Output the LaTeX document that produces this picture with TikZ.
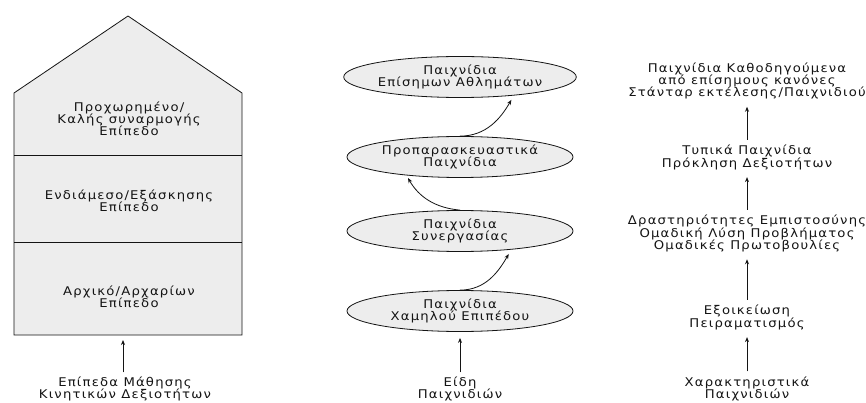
\documentclass[tikz,border=0pt]{standalone}
\usepackage{fontspec}
\setmainfont{DejaVu Sans}[LetterSpace=10, FakeStretch=1.1]
\usepackage{xcolor}
\usetikzlibrary{shapes.geometric, arrows.meta}
\definecolor{inkgray}{HTML}{141414}
\definecolor{wallgray}{HTML}{EDEDED}
\tikzset{every node/.append style={font=\fontsize{12}{12.3}\selectfont, text=inkgray, align=center, inner sep=1pt}}
\tikzset{gamebox/.style={ellipse, draw=inkgray, fill=wallgray, minimum width=226pt, minimum height=41pt, inner sep=0pt}}

\begin{document}
\begin{tikzpicture}[x=1pt, y=-1pt, >={Stealth[length=5pt, width=4pt]}, line width=0.8pt]
    \useasboundingbox (0,0) rectangle (866,403);
    \fill[white] (0,0) rectangle (866,403);

    % house of levels
    \filldraw[draw=inkgray, fill=wallgray] (14,335) -- (14,93) -- (128,16) -- (242,93) -- (242,335) -- cycle;
    \draw[inkgray] (14,155) -- (242,155);
    \draw[inkgray] (14,242) -- (242,242);
    \node (adv) at (129,119) {Προχωρημένο/\\Καλής συναρμογής\\Επίπεδο};
    \node (mid) at (129,201) {Ενδιάμεσο/Εξάσκησης\\Επίπεδο};
    \node (beg) at (129,296.5) {Αρχικό/Αρχαρίων\\Επίπεδο};
    \coordinate (hb) at (123,335);
    \node (levels) at (125,389) {Επίπεδα Μάθησης\\Κινητικών Δεξιοτήτων};
    \draw[->, inkgray, shorten <=3pt, shorten >=5pt] (levels.north -| hb) -- (hb);

    % kinds of games
    \node[gamebox] (e1) at (460,77) {Παιχνίδια\\Επίσημων Αθλημάτων};
    \node[gamebox] (e2) at (460,157) {Προπαρασκευαστικά\\Παιχνίδια};
    \node[gamebox] (e3) at (460,231) {Παιχνίδια\\Συνεργασίας};
    \node[gamebox] (e4) at (460,311) {Παιχνίδια\\Χαμηλού Επιπέδου};
    \node (kinds) at (460,389) {Είδη\\Παιχνιδιών};
    \draw[->, inkgray, shorten <=3pt, shorten >=6pt] (kinds) -- (e4);
    \draw[->, inkgray, shorten >=5pt] (e4.north) to[out=0, in=240] (e3.340);
    \draw[->, inkgray, shorten >=3pt] (e3.north) to[out=175, in=300] (e2.199);
    \draw[->, inkgray, shorten >=5pt] (e2.north) to[out=0, in=240] (e1.341);

    % features of games
    \node (r5) at (747,81) {Παιχνίδια Καθοδηγούμενα\\από επίσημους κανόνες\\Στάνταρ εκτέλεσης/Παιχνιδιού};
    \node (r4) at (747,157.5) {Τυπικά Παιχνίδια\\Πρόκληση Δεξιοτήτων};
    \node (r3) at (747,233.5) {Δραστηριότητες Εμπιστοσύνης\\Ομαδική Λύση Προβλήματος\\Ομαδικές Πρωτοβουλίες};
    \node (r2) at (747,317.5) {Εξοικείωση\\Πειραματισμός};
    \node (r1) at (747,389) {Χαρακτηριστικά\\Παιχνιδιών};
    \foreach \a/\b in {r1/r2, r2/r3, r3/r4, r4/r5}
        \draw[->, inkgray, shorten <=4pt, shorten >=6pt] (\a) -- (\b);
\end{tikzpicture}
\end{document}
